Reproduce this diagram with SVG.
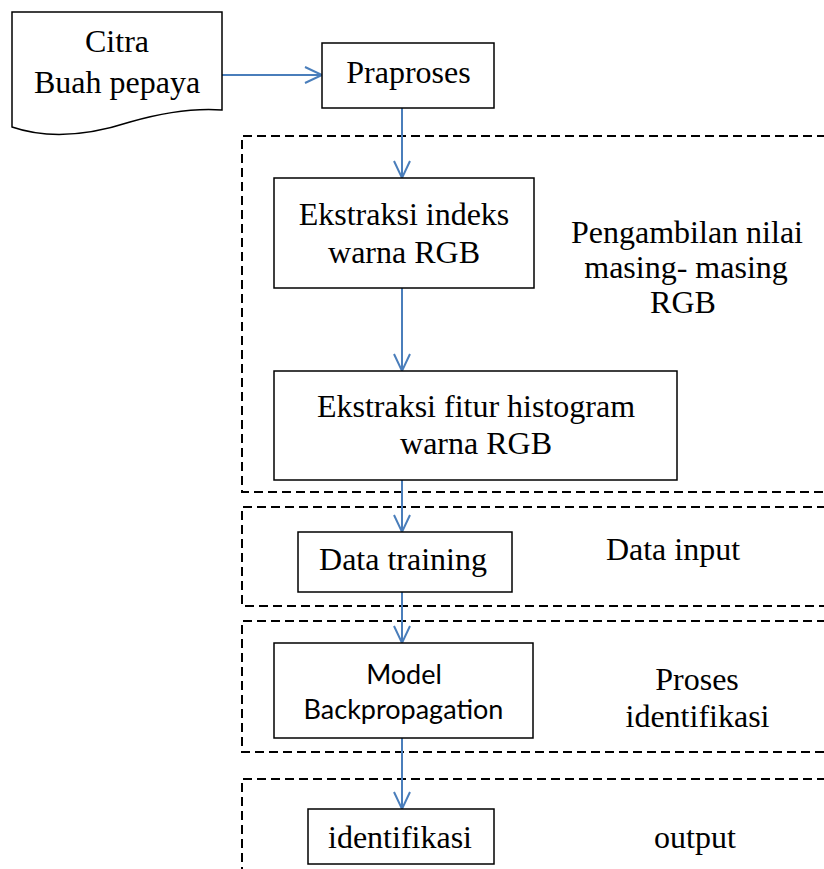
<svg xmlns="http://www.w3.org/2000/svg" width="824" height="869" viewBox="0 0 824 869">
<style>
.box{fill:#fff;stroke:#000;stroke-width:1.5}
.grp{fill:none;stroke:#000;stroke-width:2;stroke-dasharray:9 5}
.t{font-family:"Liberation Serif","Times New Roman",serif;font-size:32px;fill:#000;text-anchor:middle}
.s{font-family:Lato,"Liberation Sans",sans-serif;font-size:27px;fill:#000;text-anchor:middle}
.c{stroke:#4A7EBB;stroke-width:2;fill:none;marker-end:url(#arr)}
</style>
<defs>
<marker id="arr" markerUnits="userSpaceOnUse" viewBox="-1 -1 20 20" refX="17" refY="8" markerWidth="20" markerHeight="20" orient="auto" overflow="visible">
<path d="M0,0 L17,8 L0,16" fill="none" stroke="#4A7EBB" stroke-width="2"/>
</marker>
</defs>
<g id="groups">
<path class="grp" d="M840,136 H242 V492 H840"/>
<path class="grp" d="M840,507 H242 V606 H840"/>
<path class="grp" d="M840,621 H242 V752 H840"/>
<path class="grp" d="M840,779 H242 V880"/>
</g>
<g id="connectors">
<line class="c" x1="222" y1="75" x2="322" y2="75"/>
<line class="c" x1="402" y1="108" x2="402" y2="178"/>
<line class="c" x1="402" y1="288" x2="402" y2="371"/>
<line class="c" x1="402" y1="480" x2="402" y2="532"/>
<line class="c" x1="402" y1="592" x2="402" y2="643"/>
<line class="c" x1="402" y1="738" x2="402" y2="809"/>
</g>
<g id="citra">
<path class="box" d="M12,12 H222 V110 C195,108 165,112 130,122 C90,135 50,140 12,127 Z"/>
<text class="t" x="117" y="52">Citra</text>
<text class="t" x="117" y="93">Buah pepaya</text>
</g>
<g id="praproses">
<rect class="box" x="322" y="43" width="172" height="65"/>
<text class="t" x="408.5" y="83">Praproses</text>
</g>
<g id="ekstraksi-indeks">
<rect class="box" x="274" y="178" width="260" height="110"/>
<text class="t" x="404" y="225">Ekstraksi indeks</text>
<text class="t" x="404" y="263">warna RGB</text>
</g>
<g id="label-pengambilan">
<text class="t" x="687" y="243">Pengambilan nilai</text>
<text class="t" x="686" y="278">masing- masing</text>
<text class="t" x="683" y="313">RGB</text>
</g>
<g id="ekstraksi-fitur">
<rect class="box" x="274" y="371" width="403" height="109"/>
<text class="t" x="476" y="417">Ekstraksi fitur histogram</text>
<text class="t" x="476" y="454">warna RGB</text>
</g>
<g id="data-training">
<rect class="box" x="298" y="532" width="214" height="60"/>
<text class="t" x="403" y="570">Data training</text>
</g>
<g id="label-data-input">
<text class="t" x="673" y="560">Data input</text>
</g>
<g id="model">
<rect class="box" x="274" y="643" width="259" height="95"/>
<text class="s" x="404" y="684">Model</text>
<text class="s" x="403.5" y="719">Backpropagation</text>
</g>
<g id="label-proses">
<text class="t" x="697" y="690">Proses</text>
<text class="t" x="697.5" y="727">identifikasi</text>
</g>
<g id="identifikasi">
<rect class="box" x="308" y="809" width="186" height="55"/>
<text class="t" x="400" y="848">identifikasi</text>
</g>
<g id="label-output">
<text class="t" x="695" y="848">output</text>
</g>
</svg>
